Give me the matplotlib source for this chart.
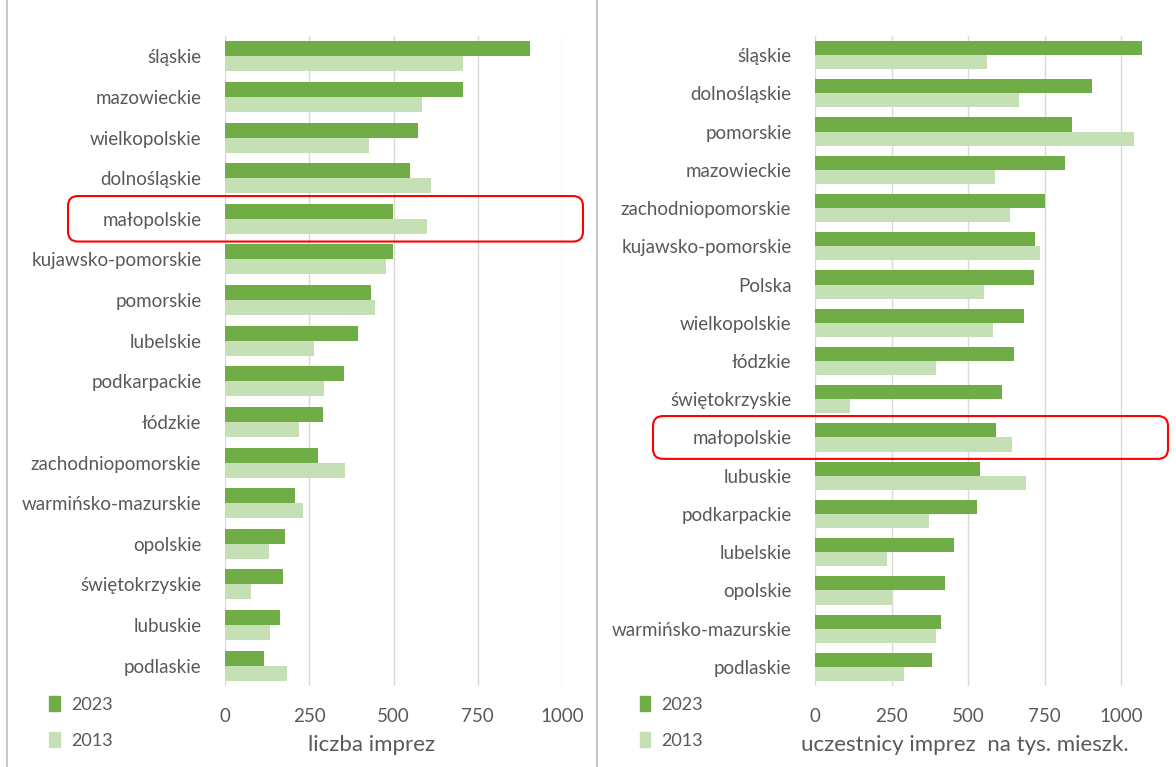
import numpy as np
import matplotlib.pyplot as plt
from matplotlib.patches import Patch, FancyBboxPatch
from matplotlib.lines import Line2D
from matplotlib.transforms import IdentityTransform

plt.rcParams['font.family'] = ['Lato', 'DejaVu Sans']

# left panel: number of events
left_regions = ['śląskie', 'mazowieckie', 'wielkopolskie', 'dolnośląskie', 'małopolskie',
                'kujawsko-pomorskie', 'pomorskie', 'lubelskie', 'podkarpackie', 'łódzkie',
                'zachodniopomorskie', 'warmińsko-mazurskie', 'opolskie', 'świętokrzyskie',
                'lubuskie', 'podlaskie']
left_2023 = [906, 707, 573, 550, 499, 499, 434, 395, 352, 290, 277, 209, 179, 172, 162, 116]
left_2013 = [707, 586, 428, 611, 599, 478, 445, 264, 293, 221, 356, 231, 131, 78, 133, 185]

# right panel: participants per 1000 inhabitants
right_regions = ['śląskie', 'dolnośląskie', 'pomorskie', 'mazowieckie', 'zachodniopomorskie',
                 'kujawsko-pomorskie', 'Polska', 'wielkopolskie', 'łódzkie', 'świętokrzyskie',
                 'małopolskie', 'lubuskie', 'podkarpackie', 'lubelskie', 'opolskie',
                 'warmińsko-mazurskie', 'podlaskie']
right_2023 = [1070, 905, 840, 818, 752, 720, 716, 682, 649, 612, 593, 540, 531, 453, 424, 413, 381]
right_2013 = [561, 666, 1042, 587, 637, 734, 551, 583, 396, 113, 644, 688, 374, 234, 253, 396, 291]

xticks = [0, 250, 500, 750, 1000]

DARK = '#70AD47'
LIGHT = '#C5E0B4'
TEXT = '#595959'
GRID = '#D9D9D9'

W, H = 1176, 767
fig = plt.figure(figsize=(W / 100, H / 100), dpi=100)


def panel(rect, xmax, regions, v23, v13, xlabel, label_x, highlight, box_x):
    ax = fig.add_axes(rect)
    y = np.arange(len(regions))
    h = 0.37
    ax.barh(y - h / 2, v23, height=h, color=DARK, zorder=2)
    ax.barh(y + h / 2, v13, height=h, color=LIGHT, zorder=2)
    ax.set_ylim(len(regions) - 0.5, -0.5)
    ax.set_xlim(0, xmax)
    ax.set_yticks(y)
    ax.set_yticklabels(regions, fontsize=13.5, color=TEXT)
    ax.set_xticks(xticks)
    ax.set_xticklabels([str(t) for t in xticks], fontsize=13.5, color=TEXT)
    ax.tick_params(length=0)
    ax.tick_params(axis='y', pad=17)
    ax.tick_params(axis='x', pad=16)
    ax.set_xlabel(xlabel, fontsize=16, color=TEXT)
    ax.xaxis.set_label_coords(label_x, -0.075)
    ax.grid(axis='x', color=GRID, linewidth=1, zorder=0)
    for s in ax.spines.values():
        s.set_visible(False)

    # red rounded box around highlighted region (pixel coords)
    i = regions.index(highlight)
    _, ytop = ax.transData.transform((0, i - 0.56))
    _, ybot = ax.transData.transform((0, i + 0.56))
    box = FancyBboxPatch((box_x[0], ybot), box_x[1] - box_x[0], ytop - ybot,
                         boxstyle='round,pad=0,rounding_size=10',
                         transform=IdentityTransform(), fill=False,
                         edgecolor='#FF0000', linewidth=1.5, clip_on=False)
    fig.add_artist(box)
    return ax


ax1 = panel([225 / W, 0.1056, 337 / W, 0.8475], 1000, left_regions, left_2023, left_2013,
            'liczba imprez', 0.435, 'małopolskie', (68, 583))
ax2 = panel([815 / W, 0.1056, 306 * 1.1 / W, 0.8475], 1100, right_regions, right_2023,
            right_2013, 'uczestnicy imprez  na tys. mieszk.', 0.445, 'małopolskie', (653, 1168))

handles = [Patch(color=DARK), Patch(color=LIGHT)]
for x in (0.028, 0.53):
    fig.legend(handles, ['2023', '2013'], loc='center left', bbox_to_anchor=(x, 0.058),
               frameon=False, fontsize=13, labelcolor=TEXT, handlelength=0.6,
               handleheight=0.9, handletextpad=0.6, labelspacing=1.05)

# panel border lines
for xf in (7 / W, 597 / W):
    fig.add_artist(Line2D([xf, xf], [0, 1], transform=fig.transFigure,
                          color='#C8C8C8', linewidth=1.5))

fig.savefig('out.png', dpi=100, facecolor='white')
